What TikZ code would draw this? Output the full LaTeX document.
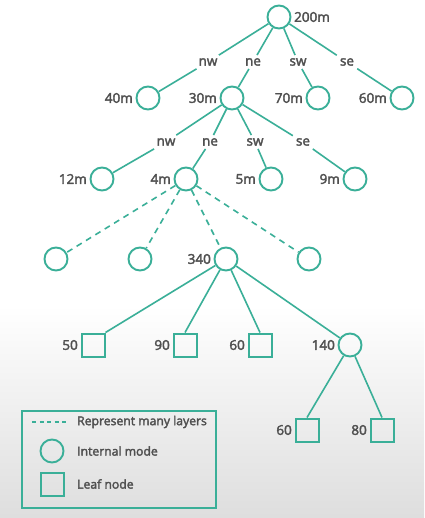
\documentclass[tikz,border=0pt]{standalone}
\usepackage{fontspec}
\setmainfont{Open Sans}[FakeBold=2.6]
\usetikzlibrary{shadings}
\definecolor{teal1}{HTML}{3AAF98}
\definecolor{txt}{HTML}{505050}
\begin{document}
\begin{tikzpicture}[x=1pt,y=-1pt,
  inode/.style={circle,draw=teal1,line width=1.9pt,minimum size=23pt,inner sep=0pt},
  lnode/.style={rectangle,draw=teal1,line width=2pt,minimum size=23pt,inner sep=0pt},
  lab/.style={text=txt,font=\fontsize{13.5}{15}\selectfont\mdseries,inner sep=2.5pt},
  elab/.style={text=txt,font=\fontsize{13.5}{15}\selectfont\mdseries,inner sep=3pt},
  edge/.style={draw=teal1,line width=1.6pt},
  dedge/.style={draw=teal1,line width=1.6pt,dash pattern=on 6pt off 5pt},
  legtxt/.style={text=txt,font=\fontsize{12.2}{14}\selectfont\mdseries,anchor=west,inner sep=0pt}]
\useasboundingbox (0,0) rectangle (424,518);
\fill[white] (0,0) rectangle (424,305);
\shade[top color=white,bottom color=black!13] (0,305) rectangle (424,518);
% root
\node[inode] (r) at (279,17) {};
\node[lab,anchor=west] at (r.east) {200m};
% edge labels level 1
\node[elab] (e1) at (208,62) {nw};
\node[elab] (e2) at (253,62) {ne};
\node[elab] (e3) at (298,62) {sw};
\node[elab] (e4) at (347,62) {se};
% level 1
\node[inode] (a) at (148,98) {};
\node[lab,anchor=east] at (a.west) {40m};
\node[inode] (b) at (232,98) {};
\node[lab,anchor=east] at (b.west) {30m};
\node[inode] (c) at (318,98) {};
\node[lab,anchor=east] at (c.west) {70m};
\node[inode] (d) at (402,98) {};
\node[lab,anchor=east] at (d.west) {60m};
\draw[edge] (r) -- (e1) -- (a);
\draw[edge] (r) -- (e2) -- (b);
\draw[edge] (r) -- (e3) -- (c);
\draw[edge] (r) -- (e4) -- (d);
% edge labels level 2
\node[elab] (f1) at (166,142) {nw};
\node[elab] (f2) at (210,142) {ne};
\node[elab] (f3) at (255,142) {sw};
\node[elab] (f4) at (303,142) {se};
% level 2
\node[inode] (ba) at (102,179) {};
\node[lab,anchor=east] at (ba.west) {12m};
\node[inode] (bb) at (186,179) {};
\node[lab,anchor=east] at (bb.west) {4m};
\node[inode] (bc) at (271,179) {};
\node[lab,anchor=east] at (bc.west) {5m};
\node[inode] (bd) at (355,179) {};
\node[lab,anchor=east] at (bd.west) {9m};
\draw[edge] (b) -- (f1) -- (ba);
\draw[edge] (b) -- (f2) -- (bb);
\draw[edge] (b) -- (f3) -- (bc);
\draw[edge] (b) -- (f4) -- (bd);
% level 3
\node[inode] (g1) at (56,259) {};
\node[inode] (g2) at (140,259) {};
\node[inode] (g3) at (226,259) {};
\node[lab,anchor=east] at (g3.west) {340};
\node[inode] (g4) at (309,259) {};
\draw[dedge] (bb) -- (g1);
\draw[dedge] (bb) -- (g2);
\draw[dedge] (bb) -- (g3);
\draw[dedge] (bb) -- (g4);
% level 4
\node[lnode] (h1) at (93,345) {};
\node[lab,anchor=east] at (h1.west) {50};
\node[lnode] (h2) at (185,345) {};
\node[lab,anchor=east] at (h2.west) {90};
\node[lnode] (h3) at (260,345) {};
\node[lab,anchor=east] at (h3.west) {60};
\node[inode] (h4) at (350,345) {};
\node[lab,anchor=east] at (h4.west) {140};
\draw[edge] (g3) -- (h1.north east);
\draw[edge] (g3) -- (h2.north);
\draw[edge] (g3) -- (h3.north);
\draw[edge] (g3) -- (h4);
% level 5
\node[lnode] (k1) at (307,430) {};
\node[lab,anchor=east] at (k1.west) {60};
\node[lnode] (k2) at (382,430) {};
\node[lab,anchor=east] at (k2.west) {80};
\draw[edge] (h4) -- (k1.north);
\draw[edge] (h4) -- (k2.north);
% legend
\node[draw=teal1,line width=1.4pt,minimum width=194pt,minimum height=97pt,inner sep=0pt] (leg) at (119,459.5) {};
\coordinate (da) at (32,422);
\coordinate (db) at (67,422);
\draw[teal1,line width=1.3pt,dash pattern=on 4pt off 3.5pt] (da) -- (db);
\node[legtxt] (t1) at (77,422) {Represent many layers};
\node[inode] (lc) at (52,451) {};
\node[legtxt] (t2) at (77,451) {Internal mode};
\node[lnode] (ls) at (52,484) {};
\node[legtxt] (t3) at (77,484) {Leaf node};
\end{tikzpicture}
\end{document}
